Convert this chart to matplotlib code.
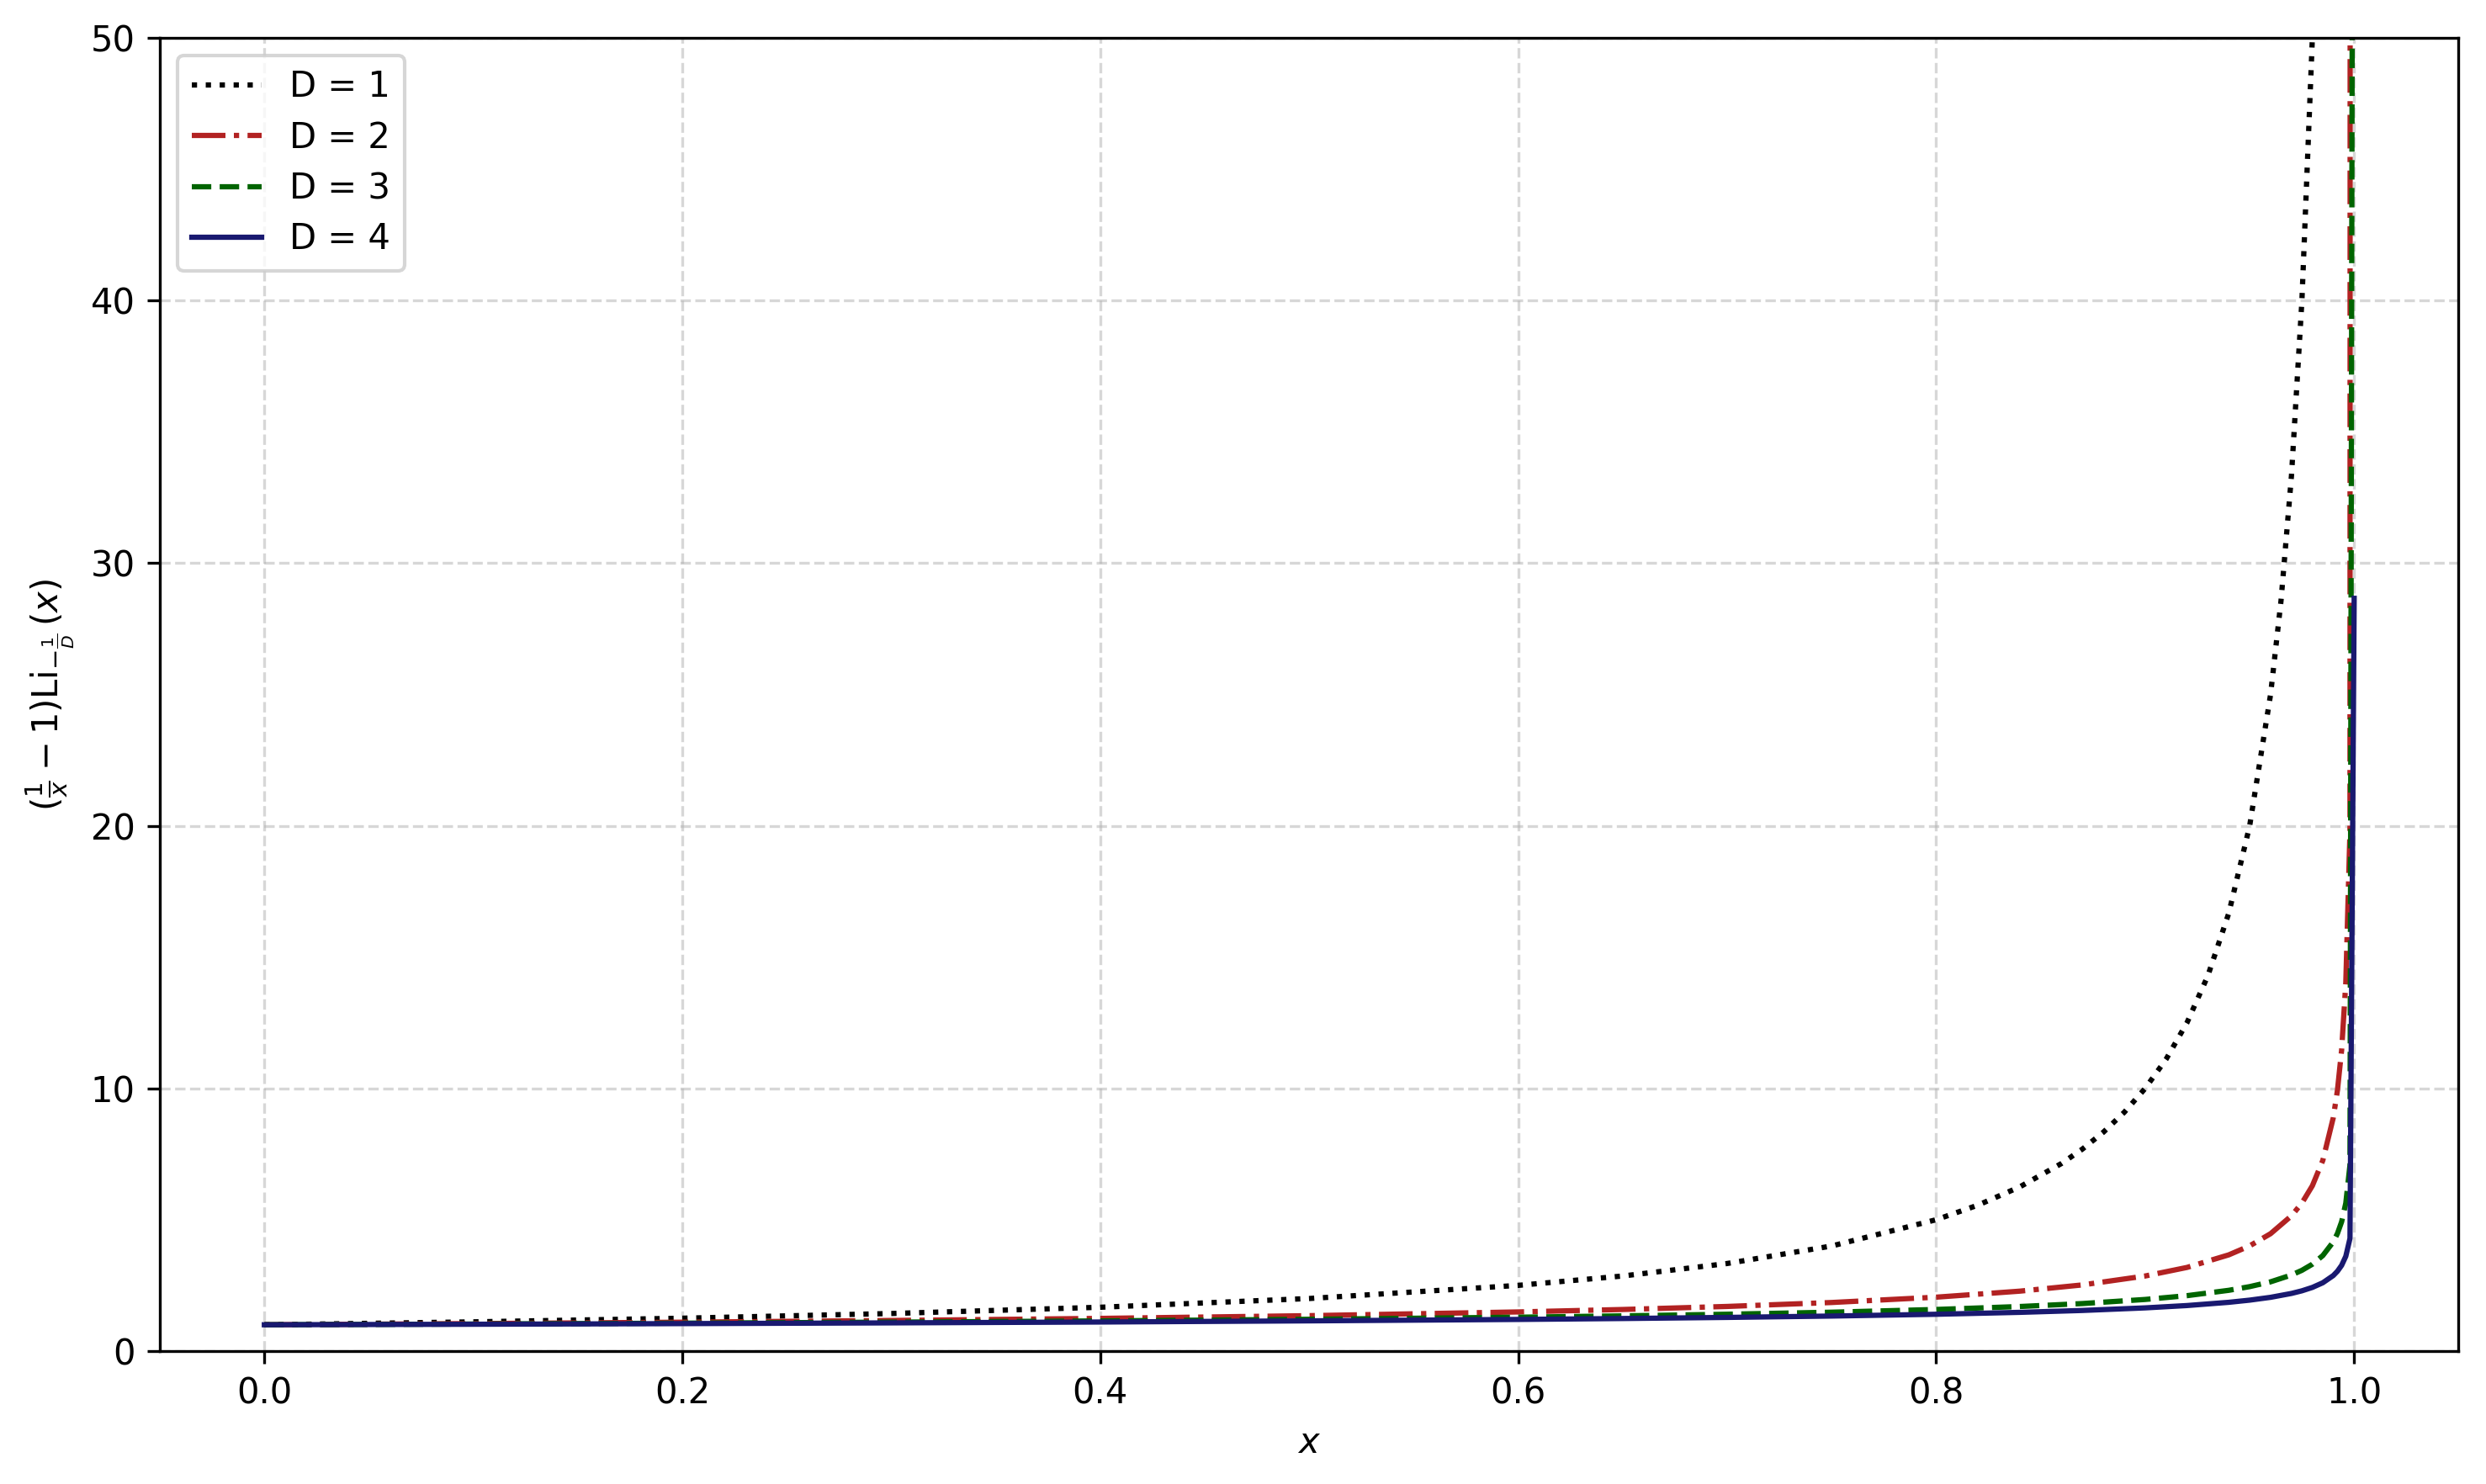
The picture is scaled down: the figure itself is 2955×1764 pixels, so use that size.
import matplotlib
matplotlib.use("Agg")
import matplotlib.pyplot as plt

# D = 1 curve
x_d1 = [0.0, 0.1, 0.2, 0.3, 0.4, 0.5, 0.6, 0.65, 0.7, 0.75, 0.8, 0.82, 0.84,
        0.86, 0.87, 0.88, 0.89, 0.9, 0.91, 0.92, 0.93, 0.94, 0.95, 0.96, 0.965,
        0.97, 0.975, 0.98, 0.985]
y_d1 = [1.0, 1.111, 1.25, 1.429, 1.667, 2.0, 2.5, 2.857, 3.333, 4.0, 5.0, 5.556,
        6.25, 7.143, 7.692, 8.333, 9.091, 10.0, 11.11, 12.5, 14.29, 16.67, 20.0,
        25.0, 28.57, 33.33, 40.0, 50.0, 66.67]

# D = 2..4 curves share the same x positions
x_vals = [0.0, 0.1, 0.2, 0.3, 0.4, 0.5, 0.6, 0.65, 0.7, 0.75, 0.8, 0.84, 0.87,
          0.9, 0.92, 0.94, 0.95, 0.96, 0.97, 0.975, 0.98, 0.985, 0.99, 0.992,
          0.994, 0.996, 0.998, 0.999999]
y_d2 = [1.0, 1.045, 1.098, 1.163, 1.243, 1.347, 1.489, 1.582, 1.698, 1.848,
        2.051, 2.280, 2.518, 2.857, 3.183, 3.662, 4.004, 4.468, 5.149, 5.635,
        6.293, 7.259, 8.883, 9.927, 11.456, 14.026, 19.826, 886.2]
y_d3 = [1.0, 1.028, 1.061, 1.100, 1.147, 1.209, 1.288, 1.339, 1.401, 1.479,
        1.583, 1.695, 1.808, 1.964, 2.108, 2.312, 2.452, 2.635, 2.895, 3.073,
        3.306, 3.635, 4.156, 4.475, 4.922, 5.632, 7.092, 89.3]
y_d4 = [1.0, 1.020, 1.044, 1.072, 1.105, 1.149, 1.203, 1.238, 1.280, 1.332,
        1.400, 1.473, 1.545, 1.643, 1.732, 1.855, 1.938, 2.045, 2.193, 2.293,
        2.422, 2.600, 2.874, 3.038, 3.262, 3.608, 4.289, 28.66]

labels = ['D = 1', 'D = 2', 'D = 3', 'D = 4']
colors = ['black', 'firebrick', 'darkgreen', 'midnightblue']
styles = [':', '-.', '--', '-']

fig = plt.figure(figsize=(9.85, 5.88), dpi=300)
ax = fig.add_axes([0.0643, 0.0896, 0.9247, 0.8849])

series = [(x_d1, y_d1), (x_vals, y_d2), (x_vals, y_d3), (x_vals, y_d4)]
for (xs, ys), lab, c, ls in zip(series, labels, colors, styles):
    ax.plot(xs, ys, linestyle=ls, color=c, linewidth=1.5, label=lab)

ax.set_ylim(0, 50)
ax.set_xlabel('$x$')
ax.set_ylabel(r'$(\frac{1}{x} - 1)\mathrm{Li}_{-\frac{1}{D}}\,(x)$')
ax.grid(True, linestyle='--', alpha=0.5)
ax.legend(loc='upper left', labelspacing=0.44)

fig.savefig('out.png', dpi=300)
